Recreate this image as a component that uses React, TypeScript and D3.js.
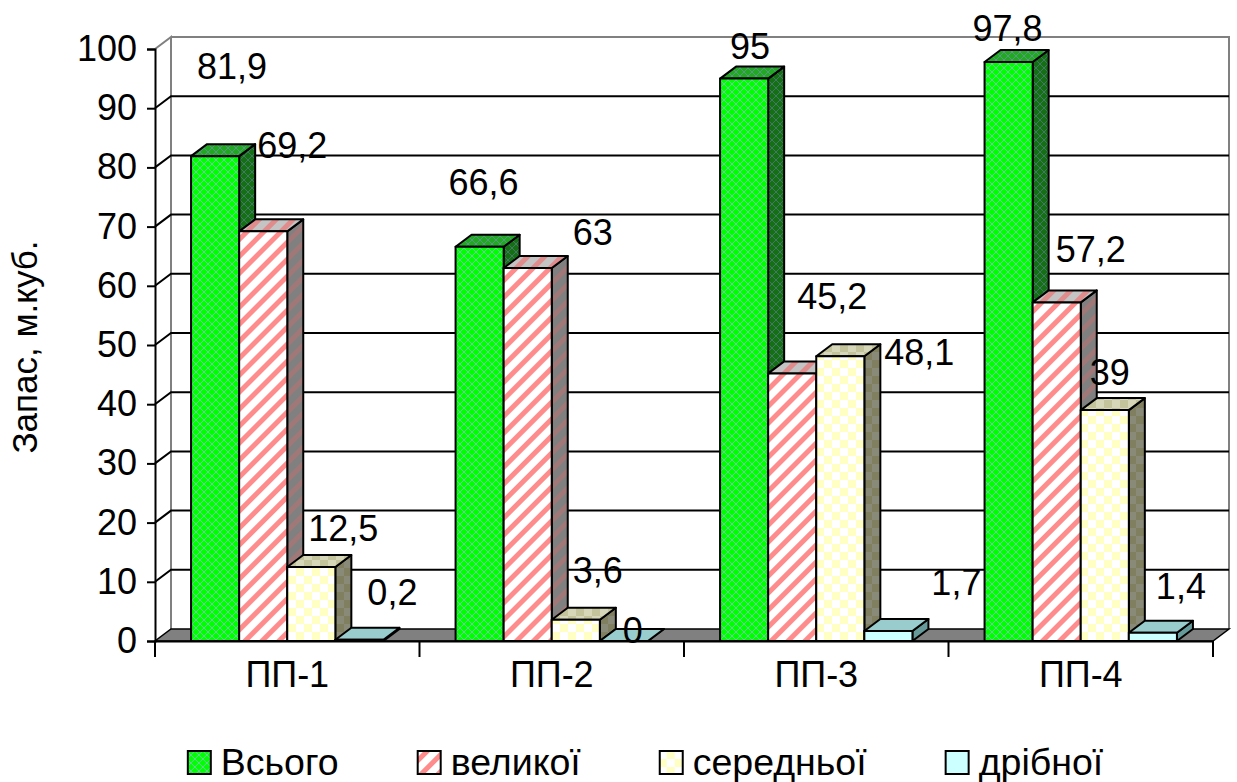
import { useEffect, useRef } from 'react'
import * as d3 from 'd3'

const W = 1237
const H = 782
const FONT = '"Liberation Sans", Arial, sans-serif'

// ── Data ────────────────────────────────────────────────────────────────────
const CATEGORIES = ['ПП-1', 'ПП-2', 'ПП-3', 'ПП-4']
const SERIES_NAMES = ['Всього', 'великої', 'середньої', 'дрібної']
const VSOGO = [81.9, 66.6, 95, 97.8]
const VELYKOI = [69.2, 63, 45.2, 57.2]
const SEREDNOI = [12.5, 3.6, 48.1, 39]
const DRIBNOI = [0.2, 0, 1.7, 1.4]
const Y_TICKS = [0, 10, 20, 30, 40, 50, 60, 70, 80, 90, 100]

// label nudges (dx from bar centre, dy from bar top), as the labels sit in the original
const LABEL_NUDGE: [number, number][][] = [
  [[17, -77], [4, -52], [6, -20], [-1, -21]],
  [[29, -73], [65, -23], [40, -64], [34, -40]],
  [[32, -26], [22, -37], [79, 9], [5, -25]],
  [[33, -35], [9, 2], [68, -36], [28, -34]],
]

const PLOT = { left: 155, right: 1213, top: 49, bottom: 641 }
const DEPTH = { dx: 16, dy: -12 }

const FILLS = [
  { front: 'url(#gFront)', top: 'url(#gTop)', side: 'url(#gSide)' },
  { front: 'url(#rFront)', top: 'url(#rTop)', side: 'url(#rSide)' },
  { front: 'url(#yFront)', top: 'url(#yTop)', side: 'url(#ySide)' },
  { front: '#CCFFFF', top: '#99CCCC', side: '#669999' },
]

export default function App() {
  const svgRef = useRef<SVGSVGElement>(null)

  useEffect(() => {
    const svgEl = svgRef.current
    if (!svgEl) return
    const svg = d3.select(svgEl)
    svg.selectAll('*').remove()

    const values = [VSOGO, VELYKOI, SEREDNOI, DRIBNOI]

    // ── Patterns ──────────────────────────────────────────────────────────────
    const defs = svg.append('defs')
    const lattice = (id: string, bg: string, fg: string) => {
      const p = defs.append('pattern').attr('id', id).attr('patternUnits', 'userSpaceOnUse')
        .attr('width', 8).attr('height', 8)
      p.append('rect').attr('width', 8).attr('height', 8).attr('fill', bg)
      p.append('path').attr('d', 'M0,0L8,8M8,0L0,8').attr('stroke', fg).attr('stroke-width', 0.9)
    }
    lattice('gFront', '#00FF00', '#7CC4B4')
    lattice('gTop', '#22A822', '#5A9A8A')
    lattice('gSide', '#157015', '#467A6C')

    const stripes = (id: string, bg: string, fg: string) => {
      const p = defs.append('pattern').attr('id', id).attr('patternUnits', 'userSpaceOnUse')
        .attr('width', 12).attr('height', 12).attr('patternTransform', 'rotate(45)')
      p.append('rect').attr('width', 12).attr('height', 12).attr('fill', bg)
      p.append('rect').attr('width', 5).attr('height', 12).attr('fill', fg)
    }
    stripes('rFront', '#FFFFFF', '#FF8C8C')
    stripes('rTop', '#C4C4C4', '#E08C8C')
    stripes('rSide', '#808080', '#A07878')

    const checker = (id: string, a: string, b: string) => {
      const p = defs.append('pattern').attr('id', id).attr('patternUnits', 'userSpaceOnUse')
        .attr('width', 16).attr('height', 16)
      p.append('rect').attr('width', 16).attr('height', 16).attr('fill', a)
      p.append('rect').attr('width', 8).attr('height', 8).attr('fill', b)
      p.append('rect').attr('x', 8).attr('y', 8).attr('width', 8).attr('height', 8).attr('fill', b)
    }
    checker('yFront', '#FFFFFF', '#FFFFC4')
    checker('yTop', '#D6D6B8', '#C4C49C')
    checker('ySide', '#8A8A78', '#808060')

    // ── Scales ────────────────────────────────────────────────────────────────
    const x = d3.scaleBand<string>().domain(CATEGORIES).range([PLOT.left, PLOT.right])
      .paddingInner(0).paddingOuter(0)
    const y = d3.scaleLinear([0, 100], [PLOT.bottom, PLOT.top])
    const xs = d3.scaleBand<string>().domain(SERIES_NAMES)
      .range([0, x.bandwidth()]).paddingInner(0).paddingOuter(0.75)

    const x0 = PLOT.left
    const x1 = PLOT.right
    const { dx, dy } = DEPTH

    // ── Walls & floor ─────────────────────────────────────────────────────────
    svg.append('path')
      .attr('d', `M${x0 + dx},${y(100) + dy}H${x1 + dx}V${y(0) + dy}`)
      .attr('fill', 'none').attr('stroke', '#808080').attr('stroke-width', 2)
    svg.append('path')
      .attr('d', `M${x0},${y(100)}L${x0 + dx},${y(100) + dy}V${y(0) + dy}`)
      .attr('fill', 'none').attr('stroke', '#808080').attr('stroke-width', 2)

    Y_TICKS.filter(t => t > 0 && t < 100).forEach(t => {
      svg.append('path')
        .attr('d', `M${x0},${y(t)}L${x0 + dx},${y(t) + dy}H${x1 + dx}`)
        .attr('fill', 'none').attr('stroke', '#000').attr('stroke-width', 2)
    })

    svg.append('path')
      .attr('d', `M${x0},${y(0)}H${x1}L${x1 + dx},${y(0) + dy}H${x0 + dx}Z`)
      .attr('fill', '#808080').attr('stroke', '#000').attr('stroke-width', 1.5)

    // ── Bars ──────────────────────────────────────────────────────────────────
    CATEGORIES.forEach((cat, ci) => {
      SERIES_NAMES.forEach((name, si) => {
        const v = values[si][ci]
        const bx = (x(cat) ?? 0) + (xs(name) ?? 0)
        const bw = xs.bandwidth()
        const top = y(v)
        const bot = y(0)
        const f = FILLS[si]
        const g = svg.append('g').attr('stroke', '#000').attr('stroke-width', 2)
          .attr('stroke-linejoin', 'round')
        g.append('path')
          .attr('d', `M${bx + bw},${top}L${bx + bw + dx},${top + dy}V${bot + dy}L${bx + bw},${bot}Z`)
          .attr('fill', f.side)
        g.append('path')
          .attr('d', `M${bx},${top}L${bx + dx},${top + dy}H${bx + bw + dx}L${bx + bw},${top}Z`)
          .attr('fill', f.top)
        if (bot - top > 0.5) {
          g.append('rect').attr('x', bx).attr('y', top).attr('width', bw).attr('height', bot - top)
            .attr('fill', f.front)
        }
      })
    })

    // ── Data labels ───────────────────────────────────────────────────────────
    CATEGORIES.forEach((cat, ci) => {
      SERIES_NAMES.forEach((name, si) => {
        const v = values[si][ci]
        const cx = (x(cat) ?? 0) + (xs(name) ?? 0) + xs.bandwidth() / 2
        const [ndx, ndy] = LABEL_NUDGE[si][ci]
        svg.append('text')
          .attr('x', cx + ndx).attr('y', y(v) + ndy)
          .attr('text-anchor', 'middle').attr('font-family', FONT).attr('font-size', 36)
          .attr('fill', '#000')
          .text(String(v).replace('.', ','))
      })
    })

    // ── Axes ──────────────────────────────────────────────────────────────────
    const ya = svg.append('g').attr('transform', `translate(${x0},0)`)
      .call(d3.axisLeft(y).tickValues(Y_TICKS).tickSize(8).tickPadding(10))
    ya.select('.domain').attr('stroke', '#000').attr('stroke-width', 2)
    ya.selectAll('.tick line').attr('stroke', '#000').attr('stroke-width', 2)
    ya.selectAll('.tick text').attr('font-family', FONT).attr('font-size', 36).attr('fill', '#000')

    const xa = svg.append('g').attr('transform', `translate(0,${y(0)})`)
      .call(d3.axisBottom(x).tickSize(0).tickPadding(20))
    xa.select('.domain').attr('stroke', '#000').attr('stroke-width', 2)
    xa.selectAll('.tick text').attr('font-family', FONT).attr('font-size', 36).attr('fill', '#000')
    const edges = [...CATEGORIES.map(c => x(c) ?? 0), x1]
    edges.forEach(ex => {
      svg.append('line').attr('x1', ex).attr('x2', ex).attr('y1', y(0)).attr('y2', y(0) + 16)
        .attr('stroke', '#000').attr('stroke-width', 2)
    })

    svg.append('text')
      .attr('transform', `translate(37,${(y(0) + y(100)) / 2 + 2}) rotate(-90)`)
      .attr('text-anchor', 'middle').attr('font-family', FONT).attr('font-size', 35)
      .attr('fill', '#000')
      .text('Запас,  м.куб.')

    // ── Legend ────────────────────────────────────────────────────────────────
    const legend = svg.append('g')
    let lx = 0
    SERIES_NAMES.forEach((name, i) => {
      const item = legend.append('g').attr('transform', `translate(${lx},0)`)
      item.append('rect').attr('x', 1).attr('y', -24).attr('width', 23).attr('height', 23)
        .attr('fill', FILLS[i].front).attr('stroke', '#000').attr('stroke-width', 2)
      const t = item.append('text').attr('x', 34).attr('y', 0)
        .attr('font-family', FONT).attr('font-size', 37.5).attr('fill', '#000').text(name)
      const tw = (t.node() as SVGTextElement).getComputedTextLength()
      lx += 34 + tw + 78
    })
    const totalW = lx - 78
    legend.attr('transform', `translate(${645 - totalW / 2},775)`)
  }, [])

  return (
    <svg ref={svgRef} width={W} height={H}
      style={{ position: 'absolute', left: 0, top: 0, background: '#fff' }} />
  )
}
